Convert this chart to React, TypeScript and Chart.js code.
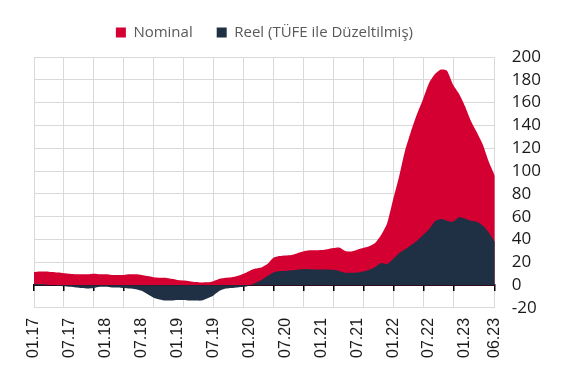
import React, { useEffect, useRef } from "react";
import { Chart, registerables } from "chart.js";

Chart.register(...registerables);

// Monthly categories 01.17 ... 06.23
const monthLabels: string[] = [];
for (let y = 17; y <= 23; y++) {
  for (let m = 1; m <= 12; m++) {
    if (y === 23 && m > 6) break;
    monthLabels.push(`${String(m).padStart(2, "0")}.${y}`);
  }
}

const tickLabels = [
  "01.17", "07.17", "01.18", "07.18", "01.19", "07.19", "01.20",
  "07.20", "01.21", "07.21", "01.22", "07.22", "01.23", "06.23",
];

const nominal = [
  11.5, 12, 12, 11.5, 11, 10.5, 10, 9.5, 9.5, 9.5, 10, 9.5,
  9.5, 9, 9, 9, 9.5, 9.5, 9, 8, 7, 6.5, 6.5, 5.5,
  4.5, 4, 3.5, 2.8, 2.4, 2.5, 3.5, 5.5, 6.5, 7, 8, 10,
  12.5, 14.5, 15.5, 18.5, 24, 25.5, 26, 26.5, 28, 29.5, 30.5, 30.5,
  30.8, 31.5, 32.5, 33, 30, 29.5, 31, 32.5, 34, 37, 44, 54,
  75, 95, 118, 135, 150, 163, 177, 185, 189, 188, 176, 168,
  157, 144, 134, 123, 108, 96,
];

const reel = [
  1, 1, 0.5, 0, -0.5, -1, -1.5, -2, -2.5, -3, -2.5, -1.5,
  -1.5, -2, -2, -2.5, -3, -3.5, -5, -8, -11, -12.5, -13.5, -13.5,
  -13, -13, -13.5, -13.5, -13.5, -11.5, -9, -5, -3, -2.5, -2, -1.5,
  -0.5, 2, 4.5, 8, 11, 12.3, 12.5, 13, 13.5, 14.2, 14, 13.8,
  13.8, 13.8, 13.5, 12.5, 10.8, 10.8, 11, 12, 13.5, 16, 19.5, 18.5,
  23, 28, 31.5, 35, 39, 44, 49, 56, 58, 56.5, 55.5, 59.5,
  58.5, 56.5, 55.5, 52, 46, 38,
];

const seriesNames = ["Nominal", "Reel (TÜFE ile Düzeltilmiş)"];
const seriesColors = ["#D50032", "#1F3044"];
const yTicks = { min: -20, max: 200, step: 20 };

const legendGap = {
  id: "legendGap",
  beforeInit(chart: any) {
    const legend = chart.legend;
    if (!legend || legend._gapPatched) return;
    const orig = legend.fit;
    legend.fit = function () {
      orig.call(this);
      this.height += 7;
    };
    legend._gapPatched = true;
  },
};

export default function App() {
  const ref = useRef<HTMLCanvasElement>(null);

  useEffect(() => {
    document.body.style.margin = "0";
    if (!ref.current) return;
    const tickIdx = tickLabels.map((l) => monthLabels.indexOf(l));
    const toXY = (arr: number[]) => arr.map((v, i) => ({ x: i, y: v }));

    const chart = new Chart(ref.current, {
      type: "line",
      data: {
        datasets: [
          {
            label: seriesNames[0],
            data: toXY(nominal),
            backgroundColor: seriesColors[0],
            borderColor: seriesColors[0],
            borderWidth: 0,
            pointRadius: 0,
            fill: "origin",
            tension: 0.2,
            order: 2,
          },
          {
            label: seriesNames[1],
            data: toXY(reel),
            backgroundColor: seriesColors[1],
            borderColor: seriesColors[1],
            borderWidth: 0,
            pointRadius: 0,
            fill: "origin",
            tension: 0.2,
            order: 1,
          },
        ],
      },
      plugins: [legendGap],
      options: {
        animation: false,
        responsive: false,
        maintainAspectRatio: false,
        layout: { padding: { top: 1, left: 34, right: 5, bottom: 9 } },
        plugins: {
          tooltip: { enabled: false },
          legend: {
            position: "top",
            fullSize: false,
            labels: {
              boxWidth: 10,
              boxHeight: 10,
              padding: 24,
              color: "#595959",
              font: { family: "'Open Sans'", size: 15 },
              sort: (a: any, b: any) => a.datasetIndex - b.datasetIndex,
            },
          },
        },
        scales: {
          x: {
            type: "linear",
            min: 0,
            max: monthLabels.length - 1,
            position: "bottom",
            afterBuildTicks: (scale: any) => {
              scale.ticks = tickIdx.map((v) => ({ value: v }));
            },
            grid: { display: false, drawTicks: false },
            border: { display: false },
            ticks: {
              autoSkip: false,
              minRotation: 90,
              maxRotation: 90,
              padding: 10,
              color: "#1a1a1a",
              font: { family: "'Liberation Sans'", size: 16 },
              callback: (v: any) => monthLabels[v] ?? "",
            },
          },
          xGrid: {
            type: "linear",
            min: 0,
            max: 461 / 30,
            position: "bottom",
            display: true,
            ticks: { display: false, stepSize: 1 },
            grid: { color: "#d9d9d9", lineWidth: 1, drawTicks: false },
            border: { display: false },
          },
          xZero: {
            type: "linear",
            min: 0,
            max: 461 / 30,
            position: { y: 0 },
            z: 1,
            ticks: { display: false, stepSize: 1 },
            grid: {
              drawOnChartArea: false,
              drawTicks: true,
              tickLength: 5,
              color: "#000",
              lineWidth: 1.5,
            },
            border: { display: true, color: "#000", width: 2 },
          },
          y: {
            position: "right",
            min: yTicks.min,
            max: yTicks.max,
            grid: { color: "#d9d9d9", lineWidth: 1, drawTicks: false },
            border: { display: false },
            ticks: {
              stepSize: yTicks.step,
              autoSkip: false,
              padding: 17,
              color: "#1a1a1a",
              font: { family: "'Open Sans'", size: 17 },
            },
          },
        },
      },
    });
    return () => chart.destroy();
  }, []);

  return (
    <div style={{ width: 563, height: 377 }}>
      <canvas ref={ref} width={563} height={377} />
    </div>
  );
}
